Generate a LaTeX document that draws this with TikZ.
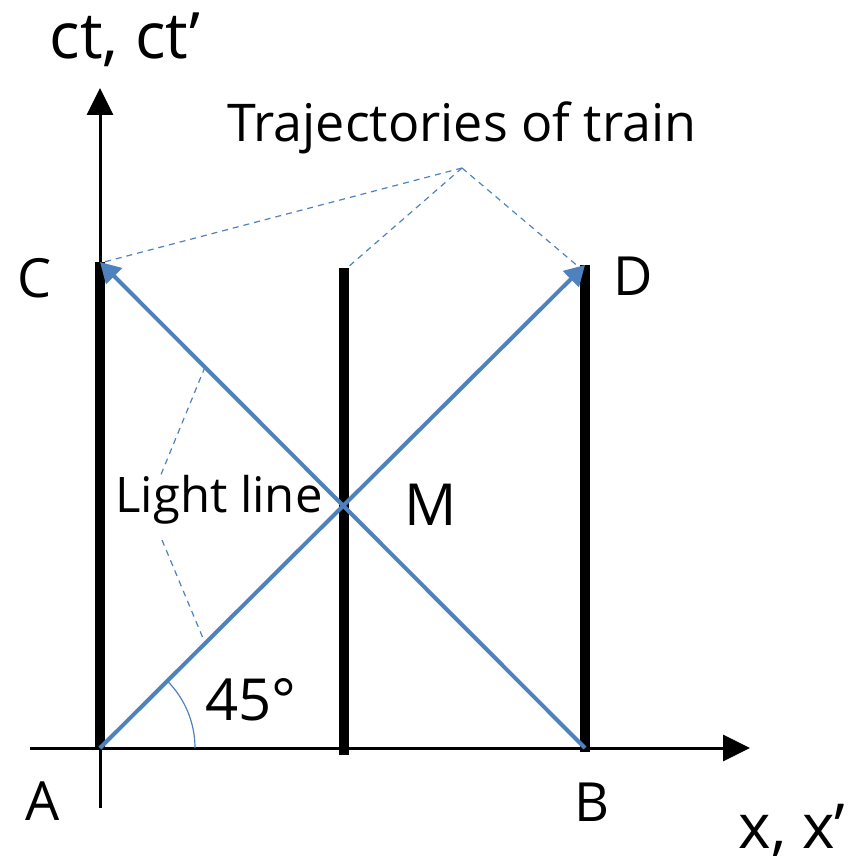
\documentclass[tikz,border=0pt]{standalone}
\usepackage{fontspec}
\setmainfont{Open Sans}
\usetikzlibrary{arrows.meta}
\definecolor{lblue}{RGB}{79,129,189}
\begin{document}
\begin{tikzpicture}[x=1pt,y=-1pt,
  axis/.style={line width=3pt,-{Triangle[length=27pt,width=26pt]}},
  traj/.style={line width=10pt},
  light/.style={lblue,line width=4pt,-{Triangle[length=20pt,width=22pt]}},
  guide/.style={lblue,line width=1.2pt,dash pattern=on 6pt off 5pt},
  lbl/.style={inner sep=0pt,font=\fontsize{54}{62}\selectfont}]
\useasboundingbox (0,0) rectangle (864,866);
% points
\coordinate (A) at (100,748);
\coordinate (B) at (585,748);
\coordinate (C) at (100,262);
\coordinate (D) at (585,265);
\coordinate (Mt) at (344,268);
\coordinate (Mb) at (344,755);
\coordinate (Bb) at (585,752);
\coordinate (Ab) at (100,748);
\coordinate (ytop) at (100,88);
\coordinate (ybot) at (100,808);
\coordinate (xl) at (30,748);
\coordinate (xr) at (750,748);
% axes
\draw[axis] (ybot) -- (ytop);
\draw[axis] (xl) -- (xr);
% train trajectories
\draw[traj] (Ab) -- (C);
\draw[traj] (Mb) -- (Mt);
\draw[traj] (Bb) -- (D);
% light lines
\draw[light] (A) -- (D);
\draw[light] (B) -- (C);
% angle arc
\draw[lblue,line width=1.2pt] (195,748) arc[start angle=0,end angle=-45,radius=95];
% labels
\node[lbl,font=\fontsize{64}{72}\selectfont] (ct) at (125,40) {ct, ct\textquoteright};
\node[lbl,font=\fontsize{52}{60}\selectfont] (traintxt) at (462,128) {Trajectories of train};
\node[lbl] (Cl) at (35,278) {C};
\node[lbl] (Dl) at (633,276) {D};
\node[lbl] (Al) at (43,801) {A};
\node[lbl] (Bl) at (592,802) {B};
\node[lbl,font=\fontsize{62}{70}\selectfont] (xx) at (792,830) {x, x\textquoteright};
\node[lbl,font=\fontsize{58}{66}\selectfont] (Ml) at (431,505) {M};
\node[lbl,font=\fontsize{58}{66}\selectfont] (ang) at (251,700) {45\textdegree};
\node[lbl,font=\fontsize{49}{57}\selectfont] (ll) at (219,500) {Light line};
% guide lines
\coordinate (tp) at (462,168);
\draw[guide] (tp) -- (104,262);
\draw[guide] (tp) -- (347,268);
\draw[guide] (tp) -- (580,268);
\draw[guide] (205,367) -- (160,477);
\draw[guide] (162,540) -- (205,643);
\end{tikzpicture}
\end{document}
